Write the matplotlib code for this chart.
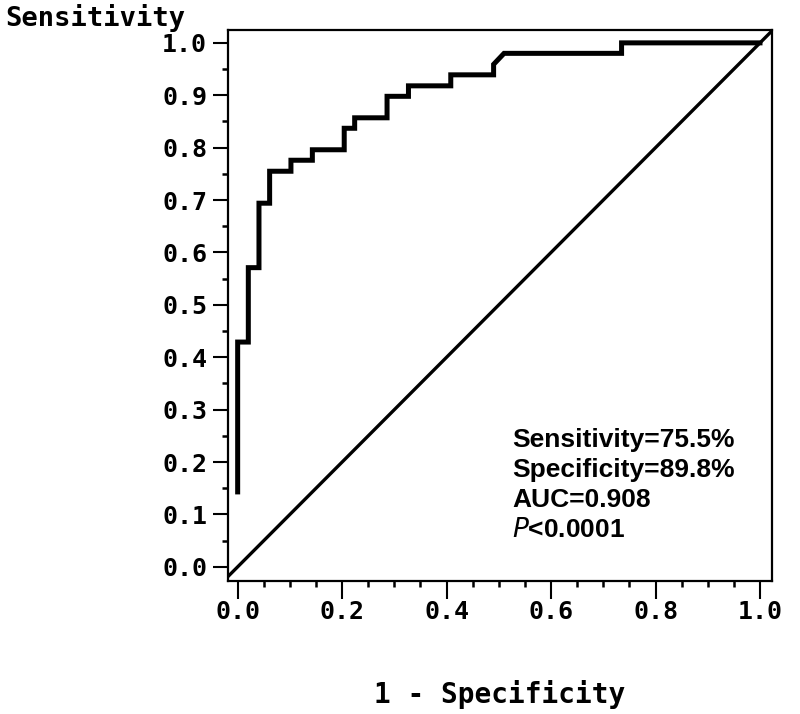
import numpy as np
from matplotlib import pyplot as plt
from matplotlib import ticker as tk

# ROC curve vertices (1 - specificity, sensitivity)
fpr = [0.0, 0.0, 0.0204, 0.0204, 0.0408, 0.0408, 0.0612, 0.0612, 0.102, 0.102,
       0.143, 0.143, 0.204, 0.204, 0.224, 0.224, 0.286, 0.286, 0.327, 0.327,
       0.408, 0.408, 0.490, 0.490, 0.510, 0.735, 0.735, 1.0]
tpr = [0.143, 0.429, 0.429, 0.571, 0.571, 0.694, 0.694, 0.755, 0.755, 0.776,
       0.776, 0.796, 0.796, 0.837, 0.837, 0.857, 0.857, 0.898, 0.898, 0.918,
       0.918, 0.939, 0.939, 0.959, 0.980, 0.980, 1.0, 1.0]

stats = ['Sensitivity=75.5%', 'Specificity=89.8%', 'AUC=0.908', r'$\bf{\it{P}}$<0.0001']

MONO = 'DejaVu Sans Mono'

fig = plt.figure(figsize=(8, 7.14), dpi=100)
ax = fig.add_axes([0.285, 0.1863, 0.68, 0.772])

ax.axline((0, 0), (1, 1), color='black', linewidth=2.4)
ax.plot(fpr, tpr, color='black', linewidth=3.6, solid_joinstyle='miter')

ax.set_xlim(-0.0185, 1.023)
ax.set_ylim(-0.027, 1.025)

ax.xaxis.set_major_locator(tk.MultipleLocator(0.2))
ax.xaxis.set_minor_locator(tk.MultipleLocator(0.05))
ax.yaxis.set_major_locator(tk.MultipleLocator(0.1))
ax.yaxis.set_minor_locator(tk.MultipleLocator(0.05))
ax.xaxis.set_major_formatter(tk.FormatStrFormatter('%.1f'))
ax.yaxis.set_major_formatter(tk.FormatStrFormatter('%.1f'))

ax.tick_params(which='major', direction='out', length=11, width=1.5)
ax.tick_params(axis='x', which='major', length=13, pad=1)
ax.tick_params(axis='y', which='major', pad=4)
ax.tick_params(which='minor', direction='out', length=4, width=1.8)
for lab in ax.get_xticklabels() + ax.get_yticklabels():
    lab.set_fontfamily(MONO)
    lab.set_fontweight('bold')
    lab.set_fontsize(18)
for sp in ax.spines.values():
    sp.set_linewidth(1.6)

fig.text(0.006, 0.975, 'Sensitivity', family=MONO, weight='bold', fontsize=19.5,
         ha='left', va='center')
ax.set_xlabel('1 - Specificity', family=MONO, weight='bold', fontsize=20,
              labelpad=40)

for i, s in enumerate(stats):
    ax.text(0.526, 0.242 - i * 0.057, s, family='Liberation Sans', weight='bold',
            fontsize=19, ha='left', va='center')

plt.savefig('out.png', dpi=100)
